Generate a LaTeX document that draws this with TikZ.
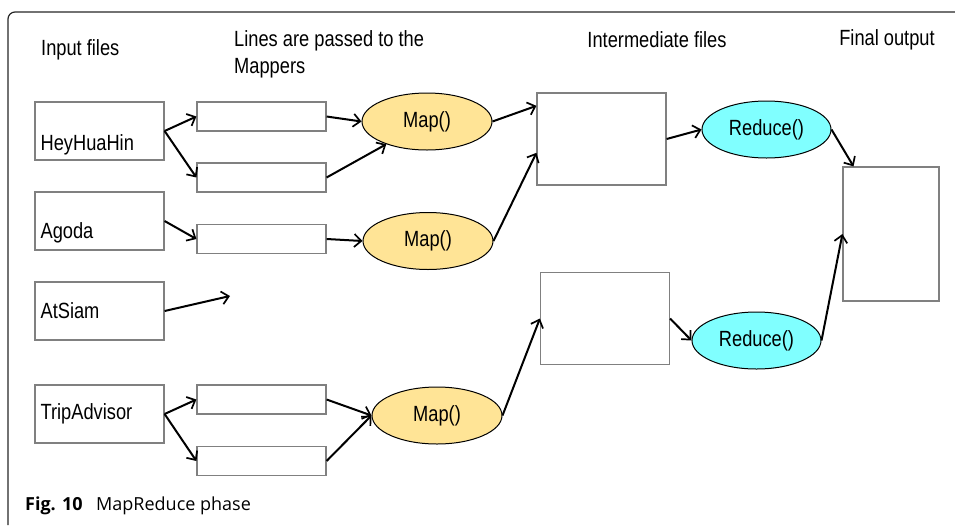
\documentclass[tikz,border=0pt]{standalone}
\usepackage{fontspec}
\setmainfont{Liberation Sans}[FakeStretch=0.83]
\newfontfamily\capfont{Open Sans}
\usepackage{tikz}
\usetikzlibrary{shapes.geometric,arrows.meta}

\definecolor{mapfill}{RGB}{255,228,150}
\definecolor{redfill}{RGB}{128,255,255}
\definecolor{boxline}{RGB}{128,128,128}

\tikzset{
    infile/.style={draw=boxline, line width=1.2pt, fill=white,
        minimum width=129pt, minimum height=58pt, inner sep=0pt},
    filetext/.style={anchor=west, inner sep=0pt},
    linebox/.style={draw=boxline, line width=1.2pt, fill=white,
        minimum width=129pt, minimum height=29pt, inner sep=0pt},
    interbox/.style={draw=boxline, line width=1.2pt, fill=white,
        minimum width=129pt, minimum height=92pt, inner sep=0pt},
    mapper/.style={ellipse, draw, line width=1pt, fill=mapfill,
        minimum width=130pt, minimum height=57pt, inner sep=0pt},
    reducer/.style={ellipse, draw, line width=1pt, fill=redfill,
        minimum width=129pt, minimum height=57pt, inner sep=0pt},
    flow/.style={line width=2pt, -{Straight Barb[length=7pt,width=13pt,line width=1.7pt]}},
    heading/.style={inner sep=0pt, align=left}
}

\begin{document}
\begin{tikzpicture}[x=1pt, y=-1pt,
    font=\fontsize{22}{27}\selectfont
    ]
        \useasboundingbox (0,0) rectangle (955,525);

        % Rahmen
        \draw[line width=1.2pt, black!85] (8,525) -- (8,19) arc (180:270:7) -- (955,12);

        % headings
        \node[heading, anchor=west] (h-in) at (41,50) {Input files};
        \node[heading, anchor=north west] (h-lines) at (234,30) {Lines are passed to the\\Mappers};
        \node[heading] (h-inter) at (657,40) {Intermediate files};
        \node[heading] (h-final) at (887,40) {Final output};

        % input files
        \node[infile] (hey) at (99.5,131) {};
        \node[infile] (agoda) at (99.5,221) {};
        \node[infile] (siam) at (99.5,311) {};
        \node[infile] (trip) at (99.5,414) {};
        \node[filetext] (hey-t) at ([xshift=6pt,yshift=-14pt]hey.west) {HeyHuaHin};
        \node[filetext] (agoda-t) at ([xshift=6pt,yshift=-12pt]agoda.west) {Agoda};
        \node[filetext] (siam-t) at ([xshift=6pt]siam.west) {AtSiam};
        \node[filetext] (trip-t) at ([xshift=6pt]trip.west) {TripAdvisor};

        % lines
        \node[linebox] (l1) at (261.5,116.5) {};
        \node[linebox] (l2) at (261.5,177.5) {};
        \node[linebox] (l3) at (261.5,239) {};
        \node[linebox] (l4) at (261.5,399.5) {};
        \node[linebox] (l5) at (261.5,461) {};

        % mappers
        \node[mapper] (m1) at (427,121.5) {Map()};
        \node[mapper] (m2) at (428,241) {Map()};
        \node[mapper] (m3) at (437,415.5) {Map()};

        % intermediate files, reducers, output
        \node[interbox] (i1) at (601.5,139) {};
        \node[interbox] (i2) at (605,318.5) {};
        \node[reducer] (r1) at (766.5,129.5) {Reduce()};
        \node[reducer] (r2) at (756.5,340.5) {Reduce()};
        \node[draw=boxline, line width=1.2pt, minimum width=96pt,
              minimum height=134pt, inner sep=0pt] (out) at (891,234) {};

        \coordinate (siam-end) at (230,296);

        % connectors
        \draw[flow] (hey.east) -- (l1.west);
        \draw[flow] (hey.east) -- (l2.west);
        \draw[flow] (agoda.east) -- (l3.west);
        \draw[flow] (siam.east) -- (siam-end);
        \draw[flow] (trip.east) -- (l4.west);
        \draw[flow] (trip.east) -- (l5.west);

        \draw[flow] (l1.east) -- (m1.west);
        \draw[flow] (l2.east) -- (m1);
        \draw[flow] (l3.east) -- (m2.west);
        \draw[flow] (l4.east) -- (m3.west);
        \draw[flow] (l5.east) -- (m3.west);

        \draw[flow] (m1.east) -- (i1.153);
        \draw[flow] (m2.east) -- (i1.192);
        \draw[flow] (m3.east) -- (i2.west);

        \draw[flow] (i1.east) -- (r1.west);
        \draw[flow] (i2.east) -- (r2.west);
        \draw[flow] (r1.east) -- (out.119);
        \draw[flow] (r2.east) -- (out.west);

        % caption
        \node[anchor=west, inner sep=0pt, font=\capfont\fontsize{18}{22}\selectfont]
            (cap) at (25,506) {\textbf{Fig. 10}\hspace{0.75em}MapReduce phase};
    \end{tikzpicture}
\end{document}
